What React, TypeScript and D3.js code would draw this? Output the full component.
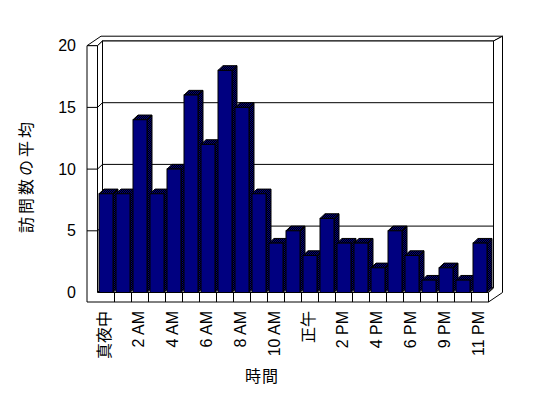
import React from 'react';
import { scaleBand, scaleLinear } from 'd3';

// hours (8 PM is missing in the source data)
const hours = [
  '真夜中', '1 AM', '2 AM', '3 AM', '4 AM', '5 AM', '6 AM', '7 AM', '8 AM', '9 AM', '10 AM', '11 AM',
  '正午', '1 PM', '2 PM', '3 PM', '4 PM', '5 PM', '6 PM', '7 PM', '9 PM', '10 PM', '11 PM',
];
const visits = [8, 8, 14, 8, 10, 16, 12, 18, 15, 8, 4, 5, 3, 6, 4, 4, 2, 5, 3, 1, 2, 1, 4];
const yTicks = [0, 5, 10, 15, 20];
const gridValues = [5, 10, 15];
const labelEvery = 2;

const FONT = "'Liberation Sans', Arial, 'Noto Sans CJK JP', sans-serif";
const NAVY = '#000080';

const App = () => {
  const width = 548;
  const height = 398;

  // front plane of the 3D box
  const left = 97.5;
  const right = 488.5;
  const wallX = 87; // outer edge of the left wall
  const floorBottom = 302;

  const x = scaleBand<string>().domain(hours).range([left, right]).padding(0);
  const y = scaleLinear().domain([0, 20]).range([292.5, 45.7]);

  // depth offsets: d1 = plot depth, d2 = back of the walls
  const d1 = { dx: 5, dy: -4.7 };
  const d2 = { dx: 14, dy: -9.5 };

  const top = y(20);
  const base = y(0);
  const barOff = 1.5;
  const barW = x.bandwidth() - 3;

  const pts = (arr: number[][]) => arr.map(p => p.join(',')).join(' ');

  return (
    <svg width={width} height={height} style={{ position: 'absolute', left: 0, top: 0, background: '#fff' }}>
      <defs>
        <pattern id="dither" width="2" height="2" patternUnits="userSpaceOnUse">
          <rect width="2" height="2" fill="#000" />
          <rect width="1" height="1" fill={NAVY} />
          <rect x="1" y="1" width="1" height="1" fill={NAVY} />
        </pattern>
      </defs>

      <g stroke="#000" strokeWidth={1} fill="#fff">
        {/* tops of the walls */}
        <polygon
          points={pts([
            [wallX, top], [wallX + d2.dx, top + d2.dy], [right + d2.dx, top + d2.dy],
            [right + d1.dx, top + d1.dy], [left + d1.dx, top + d1.dy], [left, top],
          ])}
        />
        {/* back wall */}
        <rect x={left + d1.dx} y={top + d1.dy} width={right - left} height={base - top} />
        {/* right side of the back wall and floor */}
        <polygon
          points={pts([
            [right + d1.dx, top + d1.dy], [right + d2.dx, top + d2.dy], [right + d2.dx, floorBottom + d2.dy],
            [right, floorBottom], [right, base], [right + d1.dx, base + d1.dy],
          ])}
        />
        {/* inner face of the left wall */}
        <polygon
          points={pts([[left, top], [left + d1.dx, top + d1.dy], [left + d1.dx, base + d1.dy], [left, base]])}
        />
        {/* floor top */}
        <polygon
          points={pts([[left, base], [left + d1.dx, base + d1.dy], [right + d1.dx, base + d1.dy], [right, base]])}
        />
        {/* front face of the left wall and floor */}
        <polygon
          points={pts([
            [wallX, top], [left, top], [left, base], [right, base], [right, floorBottom], [wallX, floorBottom],
          ])}
        />
      </g>

      {/* gridlines */}
      <g stroke="#000" strokeWidth={1} fill="none">
        {gridValues.map(v => (
          <g key={v}>
            <line x1={wallX} x2={left} y1={y(v)} y2={y(v)} />
            <line x1={left} x2={left + d1.dx} y1={y(v)} y2={y(v) + d1.dy} />
            <line x1={left + d1.dx} x2={right + d1.dx} y1={y(v) + d1.dy} y2={y(v) + d1.dy} />
          </g>
        ))}
        {/* category ticks on the floor front */}
        {hours.slice(1).map(h => (
          <line key={h} x1={x(h)} x2={x(h)} y1={base} y2={floorBottom} />
        ))}
      </g>

      {/* bars */}
      <g stroke="#000" strokeWidth={1}>
        {hours.map((h, i) => {
          const x0 = (x(h) as number) + barOff;
          const x1 = x0 + barW;
          const yt = y(visits[i]);
          return (
            <g key={h}>
              <polygon
                fill="url(#dither)"
                points={pts([[x1, yt], [x1 + d1.dx, yt + d1.dy], [x1 + d1.dx, base + d1.dy], [x1, base]])}
              />
              <polygon
                fill="url(#dither)"
                points={pts([[x0, yt], [x0 + d1.dx, yt + d1.dy], [x1 + d1.dx, yt + d1.dy], [x1, yt]])}
              />
              <rect x={x0} y={yt} width={barW} height={base - yt} fill={NAVY} />
            </g>
          );
        })}
      </g>

      {/* y axis labels */}
      <g fontFamily={FONT} fontSize={16} fill="#000" textAnchor="end">
        {yTicks.map(v => (
          <text key={v} x={76} y={y(v)} dy="0.35em">{v}</text>
        ))}
      </g>

      {/* x axis labels */}
      <g fontFamily={FONT} fontSize={16} fill="#000" textAnchor="end">
        {hours.map((h, i) =>
          i % labelEvery === 0 ? (
            <text
              key={h}
              transform={`translate(${(x(h) as number) + 7},311) rotate(-90)`}
              dy="0.35em"
            >
              {h}
            </text>
          ) : null
        )}
      </g>

      {/* axis titles */}
      <text
        transform="translate(26,176) rotate(-90)"
        textAnchor="middle"
        dy="0.35em"
        fontFamily={FONT}
        fontSize={16}
        letterSpacing={3}
      >
        訪問数の平均
      </text>
      <text x={262} y={376} dy="0.35em" textAnchor="middle" fontFamily={FONT} fontSize={16} letterSpacing={1}>
        時間
      </text>
    </svg>
  );
};

export default App;
